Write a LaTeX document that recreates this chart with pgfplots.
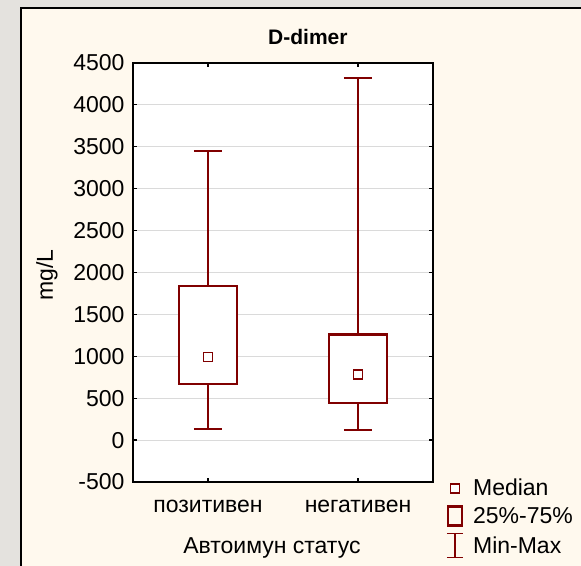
\documentclass[border=0pt]{standalone}
\usepackage{pgfplots}
\pgfplotsset{compat=1.18}
\usepackage{fontspec}
\setmainfont{Liberation Sans}
\definecolor{dred}{RGB}{128,0,0}
\definecolor{bggray}{RGB}{228,226,222}
\definecolor{cream}{RGB}{255,249,238}
\definecolor{gridgray}{RGB}{218,218,218}
\newcommand{\lblfont}{\fontsize{23bp}{27bp}\selectfont}
\begin{document}
\begin{tikzpicture}
\path[use as bounding box] (0,0) rectangle (581bp,566bp);
\begin{scope}
\clip (0,0) rectangle (581bp,566bp);
\fill[bggray] (0,0) rectangle (581bp,566bp);
\filldraw[fill=cream, draw=black, line width=2bp] (21bp,-20bp) rectangle (620bp,558bp);
\end{scope}
\begin{axis}[
  at={(133bp,84bp)}, anchor=south west,
  scale only axis, width=300bp, height=419bp,
  xmin=-0.5, xmax=1.5, ymin=-500, ymax=4500,
  xtick={0,1}, xticklabels={позитивен,негативен},
  ytick={-500,0,...,4500},
  tick align=inside, major tick length=4bp,
  tick style={black, line width=1.2bp},
  axis line style={black, line width=1.8bp},
  axis background/.style={fill=white},
  ymajorgrids, major grid style={gridgray, line width=1.1bp},
  font=\lblfont,
  ticklabel style={font=\lblfont},
  /pgf/number format/assume math mode=true,
  /pgf/number format/1000 sep={},
  xticklabel style={anchor=base, yshift=-30bp},
  yticklabel style={xshift=-5bp},
  title={D-dimer},
  title style={at={(axis description cs:0.583,1)}, anchor=base, yshift=13bp, font=\fontsize{21bp}{24bp}\selectfont\bfseries},
  xlabel={Автоимун статус},
  xlabel style={at={(axis description cs:0.463,0)}, anchor=base, yshift=-71bp},
  ylabel={mg/L},
  ylabel style={at={(axis description cs:-0.2667,0.494)}, anchor=base},
  legend style={at={(axis description cs:1.043,0.012)}, anchor=north west, draw=none, fill=none, font=\lblfont, inner sep=0pt, row sep=6bp},
  legend cell align=left,
  unbounded coords=jump,
]
% positive: min 130, Q1 670, median 990, Q3 1840, max 3450
\addplot[dred, line width=1.6bp, forget plot] coordinates {(0,1840) (0,3450) (0,nan) (-0.095,3450) (0.095,3450) (0,nan) (0,670) (0,130) (0,nan) (-0.095,130) (0.095,130)};
\addplot[dred, line width=2.2bp, fill=white, forget plot] coordinates {(-0.195,670) (0.195,670) (0.195,1840) (-0.195,1840)} -- cycle;
% negative: min 120, Q1 440, median 780, Q3 1260, max 4320
\addplot[dred, line width=1.6bp, forget plot] coordinates {(1,1260) (1,4320) (1,nan) (0.905,4320) (1.095,4320) (1,nan) (1,440) (1,120) (1,nan) (0.905,120) (1.095,120)};
\addplot[dred, line width=2.2bp, fill=white, forget plot] coordinates {(0.805,440) (1.195,440) (1.195,1260) (0.805,1260)} -- cycle;
\addplot[only marks, mark=square*, mark size=4.5bp, mark options={draw=dred, fill=white, line width=1.6bp}, forget plot] coordinates {(0,990) (1,780)};
\addlegendimage{legend image code/.code={\draw[dred, line width=1.6bp, fill=white] (3.5bp,-4.5bp) rectangle (12.5bp,4.5bp); \path (0,0) (24bp,0);}}
\addlegendentry{Median}
\addlegendimage{legend image code/.code={\draw[dred, line width=2.2bp] (1bp,-9.5bp) rectangle (15bp,9.5bp); \path (0,0) (24bp,0);}}
\addlegendentry{25\%-75\%}
\addlegendimage{legend image code/.code={\draw[dred, line width=1.6bp] (8bp,-12bp) -- (8bp,12bp) (0bp,12bp) -- (16bp,12bp) (0bp,-12bp) -- (16bp,-12bp); \path (0,0) (24bp,0);}}
\addlegendentry{Min-Max}
\end{axis}
\end{tikzpicture}
\end{document}
